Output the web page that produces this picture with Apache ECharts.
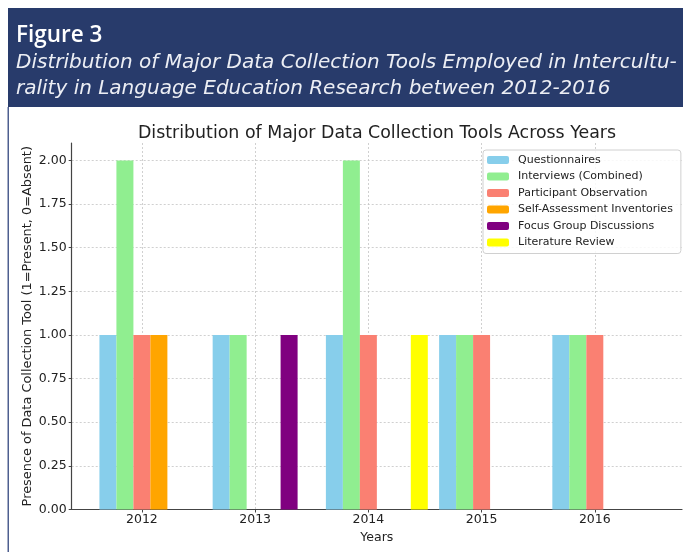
<!DOCTYPE html>
<html>
<head>
<meta charset="utf-8">
<script src="https://cdn.jsdelivr.net/npm/echarts@6/dist/echarts.min.js"></script>
<style>
  html, body { margin: 0; padding: 0; background: #fff; }
  #chart { width: 683px; height: 552px; }
</style>
</head>
<body>
<div id="chart"></div>
<script>
// data
const years = [2012, 2013, 2014, 2015, 2016];
const yTicks = [0, 0.25, 0.5, 0.75, 1, 1.25, 1.5, 1.75, 2];
const tools = [
  "Questionnaires",
  "Interviews (Combined)",
  "Participant Observation",
  "Self-Assessment Inventories",
  "Focus Group Discussions",
  "Literature Review"
];
const questionnaires = [1, 1, 1, 1, 1];
const interviews = [2, 1, 2, 1, 1];
const participantObs = [1, 0, 1, 1, 1];
const selfAssessment = [1, 0, 0, 0, 0];
const focusGroups = [0, 1, 0, 0, 0];
const literatureReview = [0, 0, 1, 0, 0];
const colors = ["#87CEEB", "#90EE90", "#FA8072", "#FFA500", "#800080", "#FFFF00"];

const values = [questionnaires, interviews, participantObs, selfAssessment, focusGroups, literatureReview];
const barW = 0.15; // bar width in years, as in the source plot

let myChart = echarts.init(document.getElementById("chart"));
const font = "DejaVu Sans";

myChart.setOption({
  animation: false,
  textStyle: { fontFamily: font },
  graphic: [
    { type: "rect", shape: { x: 8, y: 8, width: 700, height: 99 }, style: { fill: "#283b6b" }, silent: true },
    { type: "rect", shape: { x: 7.5, y: 107, width: 1.5, height: 460 }, style: { fill: "#4e5f8f" }, silent: true },
    {
      type: "text", left: 16, top: 24,
      style: { text: "Figure 3", fill: "#fff", font: "600 22.5px 'Open Sans'" }
    },
    {
      type: "text", left: 16, top: 53,
      style: { text: "Distribution of Major Data Collection Tools Employed in Intercultu-", fill: "#eceef4", font: "italic 20px 'DejaVu Sans'" }
    },
    {
      type: "text", left: 16, top: 79,
      style: { text: "rality in Language Education Research between 2012-2016", fill: "#eceef4", font: "italic 20px 'DejaVu Sans'" }
    }
  ],
  title: {
    text: "Distribution of Major Data Collection Tools Across Years",
    left: 372, top: 120, textAlign: "center",
    textStyle: { fontFamily: font, fontSize: 17.4, fontWeight: "normal", color: "#222" }
  },
  legend: {
    data: tools,
    orient: "vertical",
    left: 483, top: 150,
    itemWidth: 22, itemHeight: 8, itemGap: 4.5,
    padding: [4, 8, 5, 4],
    backgroundColor: "rgba(255,255,255,0.85)",
    borderColor: "#d0d0d0", borderWidth: 1, borderRadius: 3,
    textStyle: { fontFamily: font, fontSize: 11, color: "#222", lineHeight: 12, padding: [0, 0, 0, 4] }
  },
  grid: { left: 71.7, right: 1, top: 143, bottom: 42.5 },
  xAxis: {
    type: "value",
    min: 2011.38, max: 2016.77,
    name: "Years", nameLocation: "middle", nameGap: 22, nameMoveOverlap: false,
    nameTextStyle: { fontFamily: font, fontSize: 12.5, color: "#222" },
    axisLine: { show: true, onZero: false, lineStyle: { color: "#444", width: 1.2 } },
    axisTick: { show: true, length: 3, customValues: years, lineStyle: { color: "#444" } },
    axisLabel: { customValues: years, margin: 4, fontSize: 12.5, color: "#222", formatter: v => String(v) },
    splitLine: { show: true, lineStyle: { color: "#c4c4c4", type: [2, 2], width: 0.8 } }
  },
  yAxis: {
    type: "value",
    min: 0, max: 2.1,
    name: "Presence of Data Collection Tool (1=Present, 0=Absent)",
    nameLocation: "middle", nameGap: 38, nameRotate: 90, nameMoveOverlap: false,
    nameTextStyle: { fontFamily: font, fontSize: 12.9, color: "#222" },
    axisLine: { show: true, lineStyle: { color: "#444", width: 1.2 } },
    axisTick: { show: true, length: 3, customValues: yTicks, lineStyle: { color: "#444" } },
    axisLabel: { customValues: yTicks, margin: 5, fontSize: 12.5, color: "#222", formatter: v => v.toFixed(2) },
    splitLine: { show: true, lineStyle: { color: "#c4c4c4", type: [2, 2], width: 0.8 } }
  },
  series: tools.map((name, i) => ({
    name: name,
    type: "bar",
    barWidth: 17,
    barGap: "-100%",
    itemStyle: { color: colors[i] },
    data: years.map((y, j) => [y + (i - 2) * barW, values[i][j]])
  }))
});
window.addEventListener("resize", function() {
  myChart.resize();
});
</script>
</body>
</html>
